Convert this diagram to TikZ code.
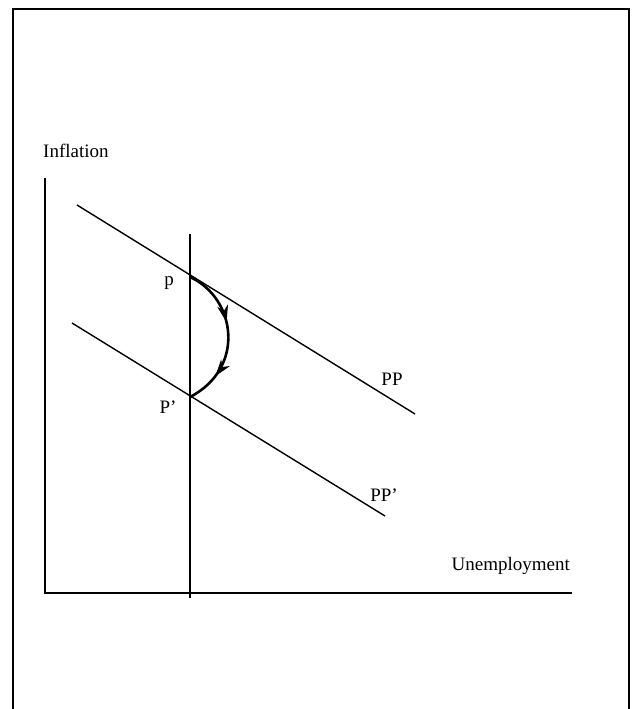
\documentclass[tikz,border=0pt]{standalone}
\usepackage{fontspec}
\setmainfont{Liberation Serif}
\usetikzlibrary{decorations.markings,arrows.meta}
\begin{document}
\begin{tikzpicture}[x=1pt,y=-1pt,
  lbl/.style={inner sep=0pt,font=\fontsize{19}{22}\selectfont},
  axisline/.style={line width=1.8pt},
  curveline/.style={line width=1.4pt},
  pathline/.style={line width=2.6pt},
  midarrows/.style={decorate,decoration={markings,
      mark=at position 0.40 with {\arrow[line width=1pt]{Stealth[length=17pt,width=11pt]}},
      mark=at position 0.78 with {\arrow[line width=1pt]{Stealth[length=17pt,width=11pt]}}}}]
\useasboundingbox (0,0) rectangle (634,709);
% frame (open at bottom)
\draw[line width=1.4pt] (13,709) -- (13,9) -- (629,9) -- (629,709);
% axes
\coordinate (ytop) at (45,178);
\coordinate (orig) at (45,593);
\coordinate (xend) at (572,593);
\draw[axisline] (ytop) -- (orig) -- (xend);
\node[lbl,anchor=south west] (infl) at (43,158) {Inflation};
\node[lbl,anchor=base east] (unemp) at (570,570) {Unemployment};
% vertical line
\coordinate (vtop) at (190,234);
\coordinate (vbot) at (190,598);
\draw[axisline] (vtop) -- (vbot);
% PP curves
\coordinate (ppA) at (77,205);
\coordinate (ppB) at (415,414);
\coordinate (qqA) at (72,323);
\coordinate (qqB) at (385,516);
\draw[curveline] (ppA) -- (ppB);
\draw[curveline] (qqA) -- (qqB);
\node[lbl] (ppl) at (392,379) {PP};
\node[lbl] (qql) at (384,495) {PP'};
% points
\coordinate (p) at (190,277);
\coordinate (pp) at (190,397);
\node[lbl] (plabel) at (169,283) {p};
\node[lbl] (pplabel) at (168,407) {P'};
% adjustment path
\draw[pathline] (p) .. controls (236,298) and (246,368) .. (pp);
\path[midarrows] (p) .. controls (236,298) and (246,368) .. (pp);
\end{tikzpicture}
\end{document}
